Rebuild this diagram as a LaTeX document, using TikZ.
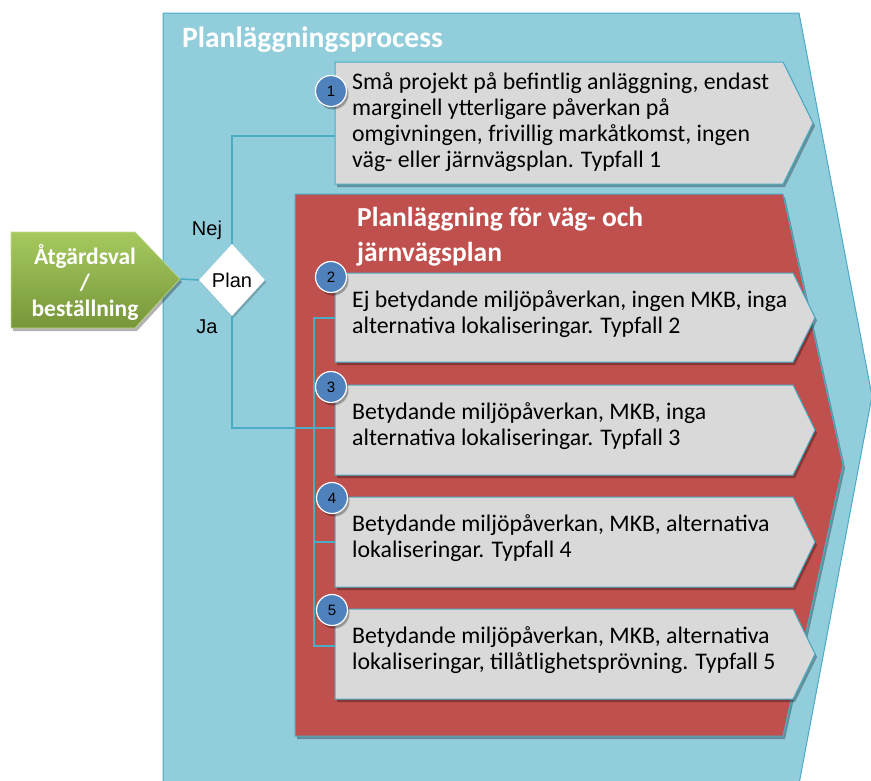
\documentclass[tikz,border=0pt]{standalone}
\usepackage{fontspec}
\setmainfont{Carlito}
\newfontfamily\arialf{Liberation Sans}
\usetikzlibrary{shadows,shapes.geometric}
\definecolor{outerblue}{HTML}{92CDDC}
\definecolor{lineblue}{HTML}{4BACC6}
\definecolor{redbox}{HTML}{C0504D}
\definecolor{graybox}{HTML}{D9D9D9}
\definecolor{numblue}{HTML}{4F81BD}
\definecolor{gtop}{HTML}{A6C95E}
\definecolor{gbot}{HTML}{76963A}
\begin{document}
\begin{tikzpicture}[x=1pt,y=-1pt,
  shad/.style={drop shadow={shadow xshift=2pt,shadow yshift=-3pt,opacity=0.3,fill=black}},
  chevbox/.style={fill=graybox,draw=lineblue,line width=1pt,shad},
  boxtext/.style={anchor=west,align=left,inner sep=0pt,font=\fontsize{23.8}{25.9}\selectfont,text=black},
  numcirc/.style={circle,fill=numblue,draw=white,line width=1.2pt,minimum size=31pt,inner sep=0pt,font=\arialf\fontsize{15}{15}\selectfont,shad},
  conn/.style={draw=lineblue,line width=1.5pt},
  lbl/.style={font=\arialf\fontsize{20}{20}\selectfont,inner sep=0pt}
]
\useasboundingbox (0,0) rectangle (871,780);
\begin{scope}
\clip (0,0) rectangle (871,780);
\path[fill=outerblue,draw=lineblue,line width=1pt] (163,13) -- (799,13) -- (872,396) -- (796,800) -- (163,800) -- cycle;
\end{scope}
% titles
\node[anchor=west,text=white,font=\bfseries\fontsize{29.5}{30}\selectfont,inner sep=0pt] (t1) at (182,40) {Planläggningsprocess};
% red inner shape
\path[fill=redbox,draw=lineblue,line width=1pt,shad] (295,194) -- (783,194) -- (843,465) -- (783,736) -- (295,736) -- cycle;
\node[anchor=west,text=white,font=\bfseries\fontsize{27.5}{35}\selectfont,align=left,inner sep=0pt] (t2) at (357,237) {Planläggning för väg- och\\järnvägsplan};
% green arrow
\path[top color=gtop,bottom color=gbot,draw=gtop!70!white,line width=0.6pt,shad] (11,232) -- (135,232) -- (180,279) -- (135,328) -- (11,328) -- cycle;
\coordinate (gtip) at (180,279);
\node[text=white,font=\bfseries\fontsize{23.5}{26}\selectfont,align=center,inner sep=0pt] (act) at (85,282) {Åtgärdsval\\/\\beställning};
% decision
\node[diamond,fill=white,minimum width=66pt,minimum height=72pt,inner sep=0pt,font=\arialf\fontsize{20}{20}\selectfont,drop shadow={shadow xshift=1.5pt,shadow yshift=-2pt,opacity=0.2,fill=black}] (plan) at (232,280) {Plan};
\node[lbl] (nej) at (207,230) {Nej};
\node[lbl] (ja) at (207,327) {Ja};
% connector coordinates
\coordinate (in1) at (335,136);
\coordinate (in2) at (335,318);
\coordinate (in3) at (335,428);
\coordinate (in4) at (335,542);
\coordinate (in5) at (335,646);
\coordinate (k2) at (314,318);
\coordinate (k4) at (314,542);
\coordinate (k5) at (314,646);
\draw[conn] (gtip) -- (plan.west);
\draw[conn] (plan.north) |- (in1);
\draw[conn] (plan.south) |- (in3);
\draw[conn] (in2) -- (k2) -- (k5) -- (in5);
\draw[conn] (k4) -- (in4);
% gray chevron boxes
\path[chevbox] (335,62) -- (783,62) -- (813,123) -- (783,184) -- (335,184) -- cycle;
\path[chevbox] (335,273) -- (793,273) -- (815,317.5) -- (793,362) -- (335,362) -- cycle;
\path[chevbox] (335,385) -- (793,385) -- (815,430) -- (793,475) -- (335,475) -- cycle;
\path[chevbox] (335,497) -- (793,497) -- (815,542) -- (793,587) -- (335,587) -- cycle;
\path[chevbox] (335,609) -- (793,609) -- (815,654) -- (793,699) -- (335,699) -- cycle;
\node[boxtext] (b1) at (352,122) {Små projekt på befintlig anläggning, endast\\marginell ytterligare påverkan på\\omgivningen, frivillig markåtkomst, ingen\\väg- eller järnvägsplan. Typfall 1};
\node[boxtext] (b2) at (352,314) {Ej betydande miljöpåverkan, ingen MKB, inga\\alternativa lokaliseringar. Typfall 2};
\node[boxtext] (b3) at (352,426) {Betydande miljöpåverkan, MKB, inga\\alternativa lokaliseringar. Typfall 3};
\node[boxtext] (b4) at (352,538) {Betydande miljöpåverkan, MKB, alternativa\\lokaliseringar. Typfall 4};
\node[boxtext] (b5) at (352,650) {Betydande miljöpåverkan, MKB, alternativa\\lokaliseringar, tillåtlighetsprövning. Typfall 5};
% number circles
\node[numcirc] (n1) at (331,91) {1};
\node[numcirc] (n2) at (331,277) {2};
\node[numcirc] (n3) at (331,387) {3};
\node[numcirc] (n4) at (332,498) {4};
\node[numcirc] (n5) at (332,610) {5};
\end{tikzpicture}
\end{document}
